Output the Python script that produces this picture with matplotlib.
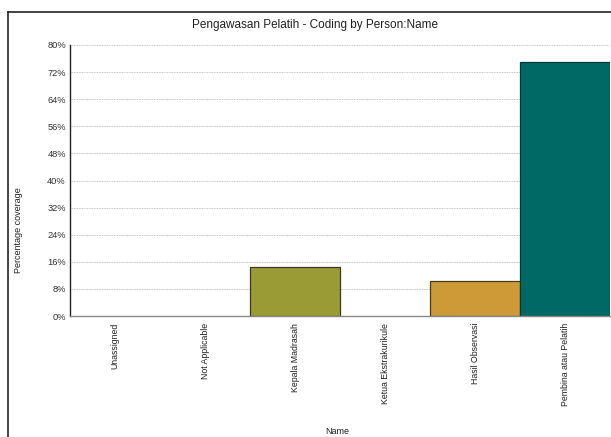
import matplotlib
matplotlib.use("Agg")
import matplotlib.pyplot as plt
from matplotlib.lines import Line2D
from matplotlib.ticker import FuncFormatter

categories = ["Unassigned", "Not Applicable", "Kepala Madrasah", "Ketua Ekstrakurikule",
              "Hasil Observasi", "Pembina atau Pelatih"]
values = [0, 0, 14.5, 0, 10.3, 75.0]
colors = ["#999999", "#999999", "#9A9B35", "#999999", "#CE9A38", "#006966"]
edges = ["none", "none", "#3A3A22", "none", "#4A3A20", "#0A3A38"]
yticks = [0, 8, 16, 24, 32, 40, 48, 56, 64, 72, 80]

plt.rcParams['font.family'] = ['Liberation Sans', 'DejaVu Sans']

W, H = 611, 437
fig = plt.figure(figsize=(W / 100, H / 100), dpi=100)

# outer frame (cropped on right and bottom)
fig.add_artist(Line2D([8 / W, 8 / W], [0, (H - 12) / H], transform=fig.transFigure,
                      color="#222222", lw=1.2))
fig.add_artist(Line2D([8 / W, 1.0], [(H - 12) / H, (H - 12) / H], transform=fig.transFigure,
                      color="#222222", lw=1.2))

ax = fig.add_axes([70 / W, (H - 316) / H, 540 / W, 271 / H])
x = list(range(len(categories)))
bars = ax.bar(x, values, width=1.0, color=colors, linewidth=0.9, zorder=3)
for b, v, e in zip(bars, values, edges):
    if v == 0:
        b.set_visible(False)
    else:
        b.set_edgecolor(e)
ax.set_xlim(-0.5, len(categories) - 0.5)
ax.set_ylim(0, 80)
ax.set_yticks(yticks)
ax.yaxis.set_major_formatter(FuncFormatter(lambda v, p: f"{int(v)}%"))
ax.set_xticks(x)
ax.set_xticklabels(categories, rotation=90, fontsize=6.3, color="#222222", va="top")
ax.tick_params(axis="y", labelsize=6.7, length=0, pad=3, labelcolor="#333333")
ax.tick_params(axis="x", length=0, pad=5)
ax.grid(axis="y", linestyle=(0, (1, 1)), color="#b0b0b0", linewidth=0.6, zorder=0)
for s in ["top", "right"]:
    ax.spines[s].set_visible(False)
ax.spines["left"].set_color("#222222")
ax.spines["left"].set_linewidth(1.0)
ax.spines["bottom"].set_color("#888888")
ax.spines["bottom"].set_linewidth(1.0)
ax.spines["bottom"].set_zorder(4)

fig.text(315 / W, (H - 25) / H, "Pengawasan Pelatih - Coding by Person:Name",
         ha="center", va="center", fontsize=8.5, color="#222222")
fig.text(19 / W, (H - 230) / H, "Percentage coverage", rotation=90,
         ha="center", va="center", fontsize=6.5, color="#222222")
fig.text(337 / W, (H - 432) / H, "Name", ha="center", va="center",
         fontsize=6.5, color="#222222")

fig.savefig("out.png", dpi=100)
